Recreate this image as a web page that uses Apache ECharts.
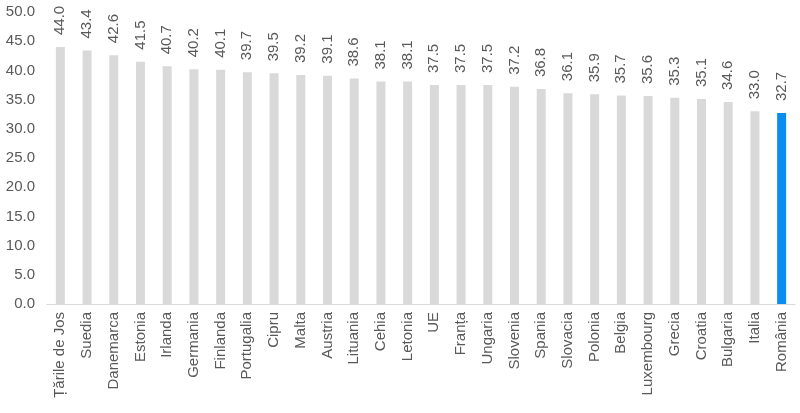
<!DOCTYPE html>
<html><head><meta charset="utf-8">
<script src="https://cdn.jsdelivr.net/npm/echarts@6/dist/echarts.min.js"></script>
<style>html,body{margin:0;padding:0;background:#fff}#c{width:800px;height:413px}</style>
</head><body><div id="c"></div>
<script>
const categories = ["Țările de Jos","Suedia","Danemarca","Estonia","Irlanda","Germania","Finlanda","Portugalia","Cipru","Malta","Austria","Lituania","Cehia","Letonia","UE","Franța","Ungaria","Slovenia","Spania","Slovacia","Polonia","Belgia","Luxembourg","Grecia","Croatia","Bulgaria","Italia","România"];
const values = [44.0,43.4,42.6,41.5,40.7,40.2,40.1,39.7,39.5,39.2,39.1,38.6,38.1,38.1,37.5,37.5,37.5,37.2,36.8,36.1,35.9,35.7,35.6,35.3,35.1,34.6,33.0,32.7];
const highlight = "România";
const chart = echarts.init(document.getElementById('c'));
chart.setOption({
  animation:false,
  textStyle:{fontFamily:'Liberation Sans'},
  grid:{left:47,right:5,top:12,bottom:109},
  xAxis:{type:'category',data:categories,
    axisLine:{lineStyle:{color:'#d9d9d9'}},axisTick:{show:false},
    axisLabel:{rotate:90,interval:0,color:'#595959',fontSize:15,margin:8}},
  yAxis:{type:'value',min:0,max:50,interval:5,
    splitLine:{show:false},axisLine:{show:false},axisTick:{show:false},
    axisLabel:{color:'#595959',fontSize:15,margin:12,formatter:v=>v.toFixed(1)}},
  series:[{type:'bar',barWidth:9,
    data:values.map((v,i)=>({value:v,itemStyle:{color:categories[i]===highlight?'#0a8cf0':'#d9d9d9'}})),
    label:{show:true,position:'top',rotate:90,align:'left',verticalAlign:'middle',distance:12,color:'#595959',fontSize:15,formatter:p=>p.value.toFixed(1)}}]
});
</script></body></html>
